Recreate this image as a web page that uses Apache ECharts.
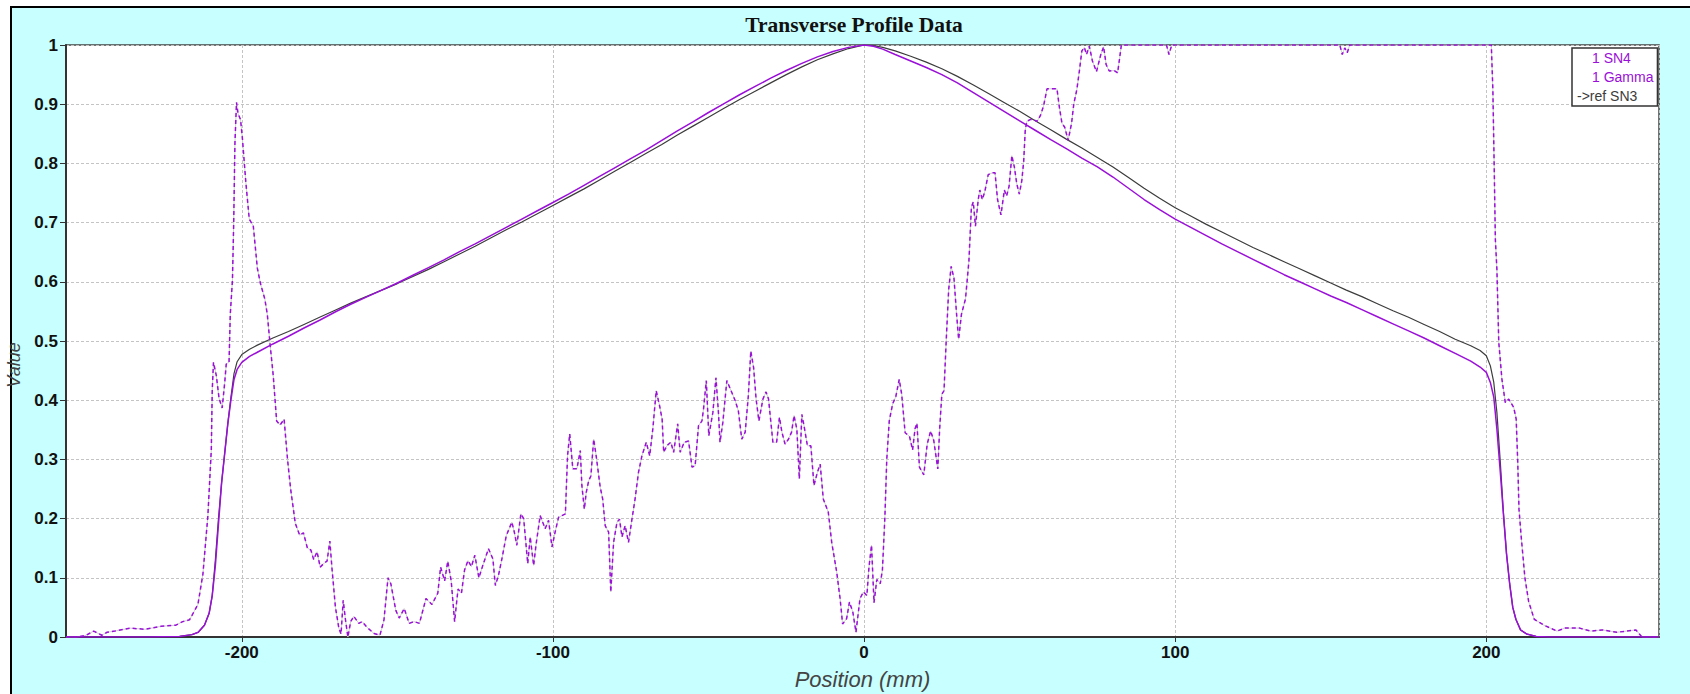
<!DOCTYPE html>
<html>
<head>
<meta charset="utf-8">
<title>Transverse Profile Data</title>
<script src="https://cdn.jsdelivr.net/npm/echarts@6/dist/echarts.min.js"></script>
<style>
    html, body { margin: 0; padding: 0; background: #fff; }
    #frame {
        position: absolute; left: 10px; top: 6px;
        width: 1680px; height: 688px;
        border-left: 2px solid #000; border-top: 2px solid #000;
        box-sizing: border-box; background: #c8ffff;
    }
    #main { position: absolute; left: 0; top: 0; width: 1690px; height: 694px; }
</style>
</head>
<body>
<div id="frame"></div>
<div id="main"></div>
<script>
// profile readings, [position mm, value]
var sn4Data = [
    [-256.5, 0], [-230, 0], [-220, 0.001], [-216, 0.004], [-214, 0.008], [-212, 0.02], [-210.5, 0.04],
    [-209.5, 0.07], [-208.5, 0.12], [-207.5, 0.19], [-206.5, 0.26], [-205.5, 0.31], [-204.5, 0.36],
    [-203.5, 0.4], [-202.5, 0.435], [-201.5, 0.452], [-200, 0.464], [-197.5, 0.474], [-195, 0.481],
    [-190, 0.495], [-185, 0.508], [-180, 0.522], [-175, 0.535], [-170, 0.549], [-165, 0.562],
    [-160, 0.574], [-155, 0.586], [-150, 0.598], [-145, 0.611], [-140, 0.624], [-135, 0.637],
    [-130, 0.651], [-125, 0.664], [-120, 0.678], [-115, 0.692], [-110, 0.706], [-105, 0.72],
    [-100, 0.734], [-95, 0.748], [-90, 0.763], [-85, 0.778], [-80, 0.793], [-75, 0.808], [-70, 0.823],
    [-65, 0.839], [-60, 0.855], [-55, 0.87], [-50, 0.886], [-45, 0.901], [-40, 0.916], [-35, 0.93],
    [-30, 0.944], [-25, 0.957], [-20, 0.969], [-15, 0.98], [-10, 0.989], [-5, 0.996], [0, 1.0],
    [3, 0.998], [6, 0.993], [10, 0.984], [15, 0.973], [20, 0.962], [25, 0.95], [30, 0.936], [35, 0.92],
    [40, 0.904], [45, 0.888], [50, 0.872], [55, 0.856], [60, 0.84], [65, 0.825], [70, 0.809],
    [75, 0.794], [80, 0.777], [85, 0.758], [90, 0.739], [95, 0.722], [100, 0.706], [105, 0.692],
    [110, 0.678], [115, 0.664], [120, 0.651], [125, 0.638], [130, 0.625], [135, 0.612], [140, 0.6],
    [145, 0.588], [150, 0.576], [155, 0.565], [160, 0.553], [165, 0.541], [170, 0.529], [175, 0.517],
    [180, 0.505], [185, 0.492], [190, 0.479], [195, 0.466], [198, 0.456], [200, 0.447], [201.3, 0.43],
    [202.4, 0.405], [203.4, 0.351], [204.5, 0.278], [205.6, 0.2], [206.5, 0.14], [207.5, 0.09],
    [208.5, 0.05], [209.5, 0.03], [211, 0.012], [213, 0.005], [216, 0.001], [220, 0], [255.5, 0]
];

var refData = [
    [-256.5, 0], [-230, 0], [-220, 0.001], [-216, 0.004], [-214, 0.008], [-212, 0.02], [-210.5, 0.04],
    [-209.5, 0.07], [-208.5, 0.13], [-207.5, 0.2], [-206.5, 0.26], [-205.5, 0.31], [-204.5, 0.36],
    [-203.5, 0.405], [-202.5, 0.445], [-201.5, 0.465], [-200, 0.477], [-197.5, 0.486], [-195, 0.493],
    [-190, 0.505], [-185, 0.516], [-180, 0.528], [-175, 0.54], [-170, 0.552], [-165, 0.564],
    [-160, 0.575], [-155, 0.586], [-150, 0.597], [-145, 0.609], [-140, 0.621], [-135, 0.634],
    [-130, 0.647], [-125, 0.66], [-120, 0.674], [-115, 0.688], [-110, 0.701], [-105, 0.715],
    [-100, 0.729], [-95, 0.743], [-90, 0.757], [-85, 0.772], [-80, 0.787], [-75, 0.802], [-70, 0.817],
    [-65, 0.832], [-60, 0.848], [-55, 0.863], [-50, 0.878], [-45, 0.893], [-40, 0.908], [-35, 0.922],
    [-30, 0.936], [-25, 0.95], [-20, 0.963], [-15, 0.975], [-10, 0.985], [-5, 0.994], [0, 1.0],
    [3, 0.999], [6, 0.996], [10, 0.99], [15, 0.981], [20, 0.971], [25, 0.96], [30, 0.947], [35, 0.933],
    [40, 0.918], [45, 0.903], [50, 0.888], [55, 0.872], [60, 0.857], [65, 0.841], [70, 0.826],
    [75, 0.81], [80, 0.794], [85, 0.776], [90, 0.758], [95, 0.741], [100, 0.725], [105, 0.711],
    [110, 0.697], [115, 0.684], [120, 0.671], [125, 0.658], [130, 0.646], [135, 0.634], [140, 0.622],
    [145, 0.61], [150, 0.598], [155, 0.586], [160, 0.575], [165, 0.563], [170, 0.551], [175, 0.54],
    [180, 0.528], [185, 0.516], [190, 0.503], [195, 0.492], [198, 0.484], [200, 0.475], [201.3, 0.458],
    [202.4, 0.43], [203.4, 0.379], [204.5, 0.295], [205.5, 0.21], [206.5, 0.14], [207.5, 0.09],
    [208.5, 0.05], [209.5, 0.03], [211, 0.012], [213, 0.005], [216, 0.001], [220, 0], [255.5, 0]
];

var gammaData = [
    [-256.5, 0], [-253, 0], [-250, 0.003], [-247.6, 0.01], [-245, 0.003], [-243.3, 0.008], [-240.8, 0.01],
    [-236, 0.015], [-231, 0.013], [-226, 0.018], [-221.2, 0.02], [-219, 0.026], [-216.8, 0.029],
    [-214.1, 0.055], [-212.5, 0.106], [-210.9, 0.205], [-209.8, 0.316], [-209.5, 0.416], [-209.1, 0.464],
    [-208.2, 0.442], [-207.3, 0.403], [-206.3, 0.387], [-205.5, 0.429], [-205.0, 0.461], [-204.1, 0.464],
    [-203.7, 0.545], [-203.0, 0.603], [-202.6, 0.7], [-202.2, 0.835], [-201.7, 0.903], [-201.2, 0.884],
    [-200.4, 0.874], [-199.8, 0.842], [-198.7, 0.768], [-197.6, 0.706], [-196.3, 0.694], [-195.0, 0.623],
    [-194.0, 0.597], [-192.6, 0.571], [-191.8, 0.545], [-190.9, 0.494], [-189.9, 0.442], [-188.8, 0.365],
    [-187.7, 0.358], [-186.4, 0.368], [-185.3, 0.3], [-184.3, 0.25], [-182.8, 0.192], [-181.4, 0.172],
    [-180.2, 0.176], [-178.9, 0.15], [-177.8, 0.147], [-176.9, 0.131], [-175.8, 0.144], [-174.8, 0.118],
    [-173.5, 0.125], [-172.6, 0.128], [-171.7, 0.162], [-171.0, 0.115], [-169.9, 0.05], [-168.8, 0.015],
    [-168.1, 0.005], [-167.4, 0.062], [-166.7, 0.03], [-165.9, 0.0], [-165.0, 0.026], [-164.0, 0.035],
    [-162.4, 0.023], [-161.3, 0.026], [-159.7, 0.016], [-157.5, 0.006], [-155.6, 0.003], [-154.3, 0.029],
    [-153.0, 0.1], [-152.1, 0.09], [-150.5, 0.045], [-149.4, 0.032], [-147.8, 0.048], [-146.2, 0.023],
    [-144.6, 0.026], [-142.9, 0.023], [-140.8, 0.065], [-138.9, 0.055], [-137.0, 0.074], [-136.1, 0.118],
    [-134.8, 0.095], [-133.8, 0.128], [-132.7, 0.095], [-131.6, 0.026], [-130.5, 0.081], [-129.4, 0.074],
    [-128.4, 0.113], [-127.3, 0.129], [-126.2, 0.119], [-125.1, 0.138], [-123.8, 0.1], [-122.4, 0.123],
    [-120.7, 0.149], [-119.3, 0.132], [-118.5, 0.087], [-117.5, 0.104], [-116.4, 0.132], [-115.0, 0.171],
    [-113.2, 0.194], [-112.4, 0.177], [-111.6, 0.155], [-110.3, 0.208], [-109.4, 0.2], [-108.1, 0.124],
    [-107.3, 0.169], [-106.2, 0.121], [-105.4, 0.157], [-104.1, 0.205], [-102.5, 0.183], [-101.4, 0.197],
    [-100.3, 0.152], [-99.3, 0.177], [-98.2, 0.202], [-96.0, 0.208], [-95.3, 0.306], [-94.6, 0.343],
    [-93.6, 0.284], [-92.3, 0.284], [-91.2, 0.315], [-90.7, 0.256], [-89.9, 0.216], [-89.3, 0.244],
    [-88.5, 0.264], [-87.8, 0.272], [-86.9, 0.334], [-86.1, 0.306], [-84.8, 0.253], [-84.0, 0.233],
    [-83.2, 0.188], [-82.1, 0.177], [-81.4, 0.076], [-80.5, 0.16], [-79.4, 0.194], [-78.6, 0.199],
    [-77.8, 0.169], [-76.8, 0.188], [-75.7, 0.16], [-74.6, 0.199], [-73.6, 0.233], [-72.5, 0.278],
    [-71.4, 0.306], [-70.0, 0.329], [-68.9, 0.306], [-67.9, 0.351], [-66.8, 0.416], [-65.7, 0.39],
    [-64.9, 0.368], [-64.4, 0.312], [-63.4, 0.323], [-62.1, 0.329], [-61.2, 0.312], [-59.9, 0.36],
    [-59.1, 0.312], [-57.8, 0.329], [-56.4, 0.331], [-55.3, 0.287], [-54.3, 0.289], [-53.2, 0.357],
    [-52.1, 0.365], [-51.6, 0.385], [-50.7, 0.433], [-49.9, 0.34], [-48.6, 0.379], [-47.6, 0.438],
    [-46.8, 0.379], [-46.3, 0.329], [-45.4, 0.362], [-44.1, 0.433], [-42.5, 0.413], [-41.4, 0.399],
    [-40.4, 0.382], [-39.3, 0.334], [-38.2, 0.346], [-37.2, 0.407], [-36.4, 0.483], [-35.5, 0.455],
    [-34.7, 0.402], [-33.8, 0.365], [-32.5, 0.402], [-31.5, 0.414], [-30.7, 0.402], [-29.3, 0.329],
    [-28.1, 0.329], [-27.2, 0.371], [-26.4, 0.346], [-25.4, 0.326], [-24.3, 0.334], [-23.3, 0.346],
    [-22.5, 0.374], [-21.6, 0.351], [-20.8, 0.267], [-20.0, 0.376], [-19.3, 0.357], [-18.2, 0.323],
    [-17.1, 0.323], [-16.1, 0.256], [-15.0, 0.278], [-14.1, 0.292], [-13.1, 0.233], [-11.5, 0.211],
    [-10.4, 0.16], [-8.8, 0.11], [-7.7, 0.065], [-6.9, 0.022], [-5.6, 0.031], [-4.7, 0.059],
    [-3.6, 0.042], [-2.6, 0.008], [-1.3, 0.065], [-0.2, 0.076], [0.9, 0.07], [1.6, 0.119], [2.4, 0.155],
    [3.2, 0.058], [4.1, 0.097], [5.2, 0.09], [5.9, 0.113], [6.7, 0.203], [7.3, 0.3], [8.1, 0.365],
    [9.2, 0.394], [10.2, 0.406], [11.3, 0.435], [12.1, 0.41], [13.2, 0.345], [14.6, 0.339], [15.6, 0.316],
    [16.4, 0.352], [17.0, 0.361], [17.8, 0.287], [19.2, 0.274], [20.3, 0.326], [21.4, 0.348],
    [22.4, 0.332], [23.7, 0.284], [24.3, 0.352], [25.0, 0.41], [25.7, 0.416], [26.4, 0.5], [27.2, 0.587],
    [28.0, 0.626], [28.9, 0.606], [29.7, 0.548], [30.4, 0.503], [31.3, 0.545], [32.6, 0.571],
    [33.7, 0.635], [34.5, 0.726], [35.1, 0.735], [35.8, 0.694], [36.7, 0.739], [37.2, 0.755],
    [38.0, 0.739], [38.8, 0.752], [39.9, 0.781], [41.2, 0.784], [42.1, 0.784], [42.9, 0.739],
    [44.0, 0.713], [45.1, 0.755], [45.8, 0.745], [46.6, 0.761], [47.5, 0.813], [48.3, 0.794],
    [49.1, 0.765], [49.9, 0.748], [50.7, 0.771], [51.3, 0.803], [51.8, 0.855], [52.3, 0.871],
    [53.4, 0.874], [54.5, 0.874], [55.6, 0.871], [56.7, 0.881], [57.7, 0.897], [58.8, 0.926],
    [60.2, 0.926], [62.0, 0.926], [62.8, 0.894], [63.6, 0.868], [64.5, 0.861], [65.6, 0.839],
    [66.7, 0.868], [67.4, 0.9], [68.4, 0.925], [69.2, 0.956], [70.0, 0.99], [70.8, 0.996], [71.5, 0.984],
    [72.4, 0.998], [73.4, 0.973], [74.7, 0.955], [76.1, 0.984], [77.0, 0.997], [77.8, 0.967],
    [78.8, 0.956], [80.4, 0.957], [81.5, 0.953], [82.3, 0.984], [82.7, 1.0], [97.2, 1], [98.0, 0.984],
    [98.9, 1], [152.9, 1], [153.7, 0.984], [154.5, 0.995], [155.3, 0.987], [156.1, 1], [201.6, 1],
    [202.1, 0.925], [202.6, 0.773], [202.9, 0.672], [203.4, 0.621], [204.0, 0.498], [205.0, 0.436],
    [206.1, 0.396], [207.2, 0.402], [208.8, 0.388], [209.6, 0.368], [210.1, 0.295], [210.5, 0.216],
    [211.2, 0.17], [212.4, 0.1], [213.6, 0.06], [215.4, 0.03], [218.5, 0.02], [222.7, 0.01],
    [225.2, 0.015], [230, 0.015], [233.6, 0.01], [237.2, 0.012], [242, 0.008], [248.1, 0.012],
    [250, 0], [255.5, 0]
];

var seriesNames = ['1 SN4', '1 Gamma', '->ref SN3'];
var purple = '#9a10d8';
var refColor = '#3c3c3c';

var myChart = echarts.init(document.getElementById('main'), null, {renderer: 'svg'});

var option = {
    animation: false,
    backgroundColor: 'transparent',
    title: {
        text: 'Transverse Profile Data',
        left: 854,
        top: 14,
        padding: 0,
        textAlign: 'center',
        textStyle: {
            fontFamily: 'Liberation Serif',
            fontWeight: 'bold',
            fontSize: 21.5,
            color: '#111'
        }
    },
    legend: {
        orient: 'vertical',
        left: 1572,
        top: 48,
        icon: 'none',
        itemWidth: 0,
        itemHeight: 14,
        itemGap: 5,
        padding: [3, 4, 3, 0],
        backgroundColor: '#fff',
        borderColor: '#333',
        borderWidth: 1.5,
        selectedMode: false,
        textStyle: {fontFamily: 'Liberation Sans', fontSize: 14},
        data: [
            {name: seriesNames[0], textStyle: {color: purple, padding: [0, 0, 0, 15]}},
            {name: seriesNames[1], textStyle: {color: purple, padding: [0, 0, 0, 15]}},
            {name: seriesNames[2], textStyle: {color: refColor}}
        ]
    },
    grid: {
        left: 66,
        top: 45,
        right: 31,
        bottom: 57,
        outerBoundsMode: 'none',
        show: true,
        backgroundColor: '#fff',
        borderColor: '#444',
        borderWidth: 1.5
    },
    xAxis: {
        type: 'value',
        min: -256.5,
        max: 255.5,
        name: 'Position (mm)',
        nameLocation: 'middle',
        nameGap: 31,
        nameTextStyle: {
            fontFamily: 'Liberation Sans',
            fontStyle: 'italic',
            fontSize: 22,
            color: '#444'
        },
        axisLine: {onZero: false, lineStyle: {color: '#333', width: 2}},
        axisTick: {length: 5, lineStyle: {color: '#333'}},
        axisLabel: {
            margin: 7,
            fontFamily: 'Liberation Sans',
            fontWeight: 'bold',
            fontSize: 17,
            color: '#111',
            showMinLabel: false,
            showMaxLabel: false,
            formatter: function (v) {
                return v % 100 === 0 ? String(v) : '';
            }
        },
        splitLine: {lineStyle: {color: '#c4c4c4', type: [3, 2]}}
    },
    yAxis: {
        type: 'value',
        min: 0,
        max: 1,
        interval: 0.1,
        name: 'Value',
        nameLocation: 'middle',
        nameGap: 33,
        nameTextStyle: {
            fontFamily: 'Liberation Sans',
            fontStyle: 'italic',
            fontSize: 18,
            color: '#444',
            padding: [0, 48, 0, 0]
        },
        axisLine: {show: true, onZero: false, lineStyle: {color: '#333', width: 2}},
        axisTick: {show: true, length: 6, lineStyle: {color: '#333'}},
        axisLabel: {
            margin: 8,
            fontFamily: 'Liberation Sans',
            fontWeight: 'bold',
            fontSize: 17,
            color: '#111'
        },
        splitLine: {lineStyle: {color: '#c4c4c4', type: [3, 2]}}
    },
    series: [
        {
            // light gap colour under the dashed gamma trace
            name: seriesNames[1],
            type: 'line',
            data: gammaData,
            showSymbol: false,
            silent: true,
            lineStyle: {color: '#cfcfcf', width: 1},
            z: 2
        },
        {
            name: seriesNames[2],
            type: 'line',
            data: refData,
            showSymbol: false,
            lineStyle: {color: refColor, width: 1.2},
            z: 3
        },
        {
            name: seriesNames[0],
            type: 'line',
            data: sn4Data,
            showSymbol: false,
            lineStyle: {color: purple, width: 1.5},
            z: 4
        },
        {
            name: seriesNames[1],
            type: 'line',
            data: gammaData,
            showSymbol: false,
            lineStyle: {color: purple, width: 1.5, type: [4, 3]},
            z: 5
        }
    ]
};
myChart.setOption(option);
</script>
</body>
</html>
